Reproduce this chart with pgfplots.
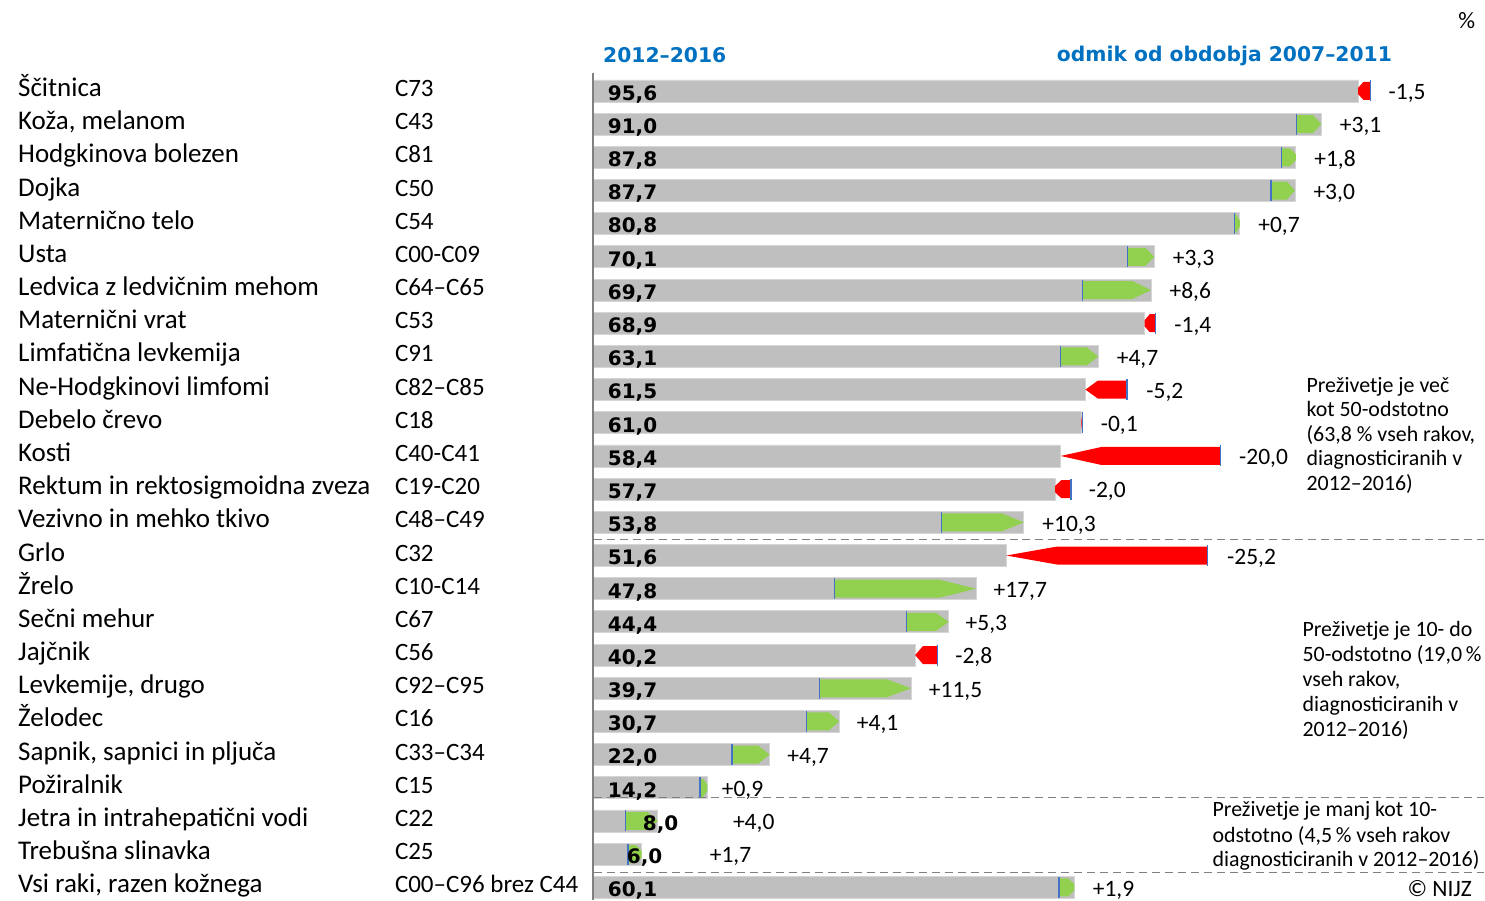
\documentclass[border=0pt]{standalone}
\usepackage{fontspec}
\setmainfont{Carlito}
\newfontfamily\dejavu{DejaVu Sans}
\usepackage{pgfplots}
\usepackage{pgfplotstable}
\pgfplotsset{compat=1.18}
\definecolor{barGray}{HTML}{BFBFBF}
\definecolor{barEdge}{HTML}{D6D6D6}
\definecolor{arrGreen}{HTML}{92D050}
\definecolor{arrRed}{HTML}{FF0000}
\definecolor{tickBlue}{HTML}{4472C4}
\definecolor{titleBlue}{HTML}{0070C0}
\definecolor{sepGray}{HTML}{808080}
\newcommand\fname{\fontsize{27bp}{30bp}\selectfont}
\newcommand\fcode{\fontsize{25bp}{28bp}\selectfont}
\newcommand\fchg{\fontsize{23.5bp}{26bp}\selectfont}
\newcommand\fval{\dejavu\bfseries\fontsize{20bp}{24bp}\selectfont}
\newcommand\ftitle{\dejavu\bfseries\fontsize{20.3bp}{24bp}\selectfont}
\newcommand\fann{\fontsize{21.9bp}{24.6bp}\selectfont}

\pgfplotstableread[col sep=semicolon]{
name;code;cur;chg;vlx;clx
Ščitnica;C73;95.6;-1.5;1.75;99.4
Koža, melanom;C43;91.0;3.1;1.75;93.3
Hodgkinova bolezen;C81;87.8;1.8;1.75;90.1
Dojka;C50;87.7;3.0;1.75;90.0
Maternično telo;C54;80.8;0.7;1.75;83.1
Usta;C00-C09;70.1;3.3;1.75;72.4
Ledvica z ledvičnim mehom;C64–C65;69.7;8.6;1.75;72.0
Maternični vrat;C53;68.9;-1.4;1.75;72.6
Limfatična levkemija;C91;63.1;4.7;1.75;65.4
Ne-Hodgkinovi limfomi;C82–C85;61.5;-5.2;1.75;69.1
Debelo črevo;C18;61.0;-0.1;1.75;63.4
Kosti;C40-C41;58.4;-20.0;1.75;80.7
Rektum in rektosigmoidna zveza;C19-C20;57.7;-2.0;1.75;61.9
Vezivno in mehko tkivo;C48–C49;53.8;10.3;1.75;56.1
Grlo;C32;51.6;-25.2;1.75;79.2
Žrelo;C10-C14;47.8;17.7;1.75;50.0
Sečni mehur;C67;44.4;5.3;1.75;46.5
Jajčnik;C56;40.2;-2.8;1.75;45.2
Levkemije, drugo;C92–C95;39.7;11.5;1.75;41.9
Želodec;C16;30.7;4.1;1.75;32.9
Sapnik, sapnici in pljuča;C33–C34;22.0;4.7;1.75;24.2
Požiralnik;C15;14.2;0.9;1.75;16.0
Jetra in intrahepatični vodi;C22;8.0;4.0;6.125;17.4
Trebušna slinavka;C25;6.0;1.7;4.125;14.5
Vsi raki, razen kožnega;C00–C96 brez C44;60.1;1.9;1.75;62.4
}\data

\begin{document}
\begin{tikzpicture}
\begin{axis}[
  scale only axis, width=1485bp, height=900bp,
  xmin=-74.25, xmax=111.375, ymin=0, ymax=900, y dir=reverse,
  axis line style={draw=none}, ticks=none, clip=false,
]
% gray bars (2012-2016)
\addplot[xbar, bar shift=0pt, bar width=22, fill=barGray, draw=barEdge, line width=0.8bp, forget plot]
  table[x=cur, y expr=91+33.2*\coordindex] {\data};

% change arrows
\pgfplotstablegetrowsof{\data}
\pgfmathtruncatemacro\nrows{\pgfplotsretval-1}
\pgfplotsforeachungrouped \i in {0,...,\nrows}{%
  \pgfplotstablegetelem{\i}{cur}\of\data \let\cur\pgfplotsretval
  \pgfplotstablegetelem{\i}{chg}\of\data \let\chg\pgfplotsretval
  \pgfmathsetmacro\yc{91+33.2*\i}%
  \pgfmathsetmacro\prev{\cur-\chg}%
  \pgfmathsetmacro\len{abs(\chg)}%
  \pgfmathsetmacro\tip{min(\len,0.24*\len+0.3)}%
  \pgfmathsetmacro\sgn{ifthenelse(\chg<0,-1,1)}%
  \pgfmathsetmacro\base{\cur-\sgn*\tip}%
  \pgfmathsetmacro\kk{ifthenelse(\len<2.5,0.35,0)}%
  \pgfmathsetmacro\ya{\yc-9}%
  \pgfmathsetmacro\yb{\yc+9}%
  \pgfmathsetmacro\yp{\yc-9*\kk}%
  \pgfmathsetmacro\yq{\yc+9*\kk}%
  \pgfmathsetmacro\ta{\yc-10.5}%
  \pgfmathsetmacro\tb{\yc+10.5}%
  \ifdim\chg pt<0pt \def\col{arrRed}\else\def\col{arrGreen}\fi
  \edef\tmp{\noexpand\addplot[fill=\col,draw=none,forget plot] coordinates {(\prev,\ya) (\base,\ya) (\cur,\yp) (\cur,\yq) (\base,\yb) (\prev,\yb)};}\tmp
  \edef\tmp{\noexpand\addplot[draw=tickBlue,line width=1.2bp,forget plot] coordinates {(\prev,\ta) (\prev,\tb)};}\tmp
}

% axis line and separators
\addplot[draw=sepGray, line width=2bp, forget plot] coordinates {(-0.125,73) (-0.125,900)};
\addplot[draw=sepGray, line width=1.5bp, dash pattern=on 8bp off 5bp, forget plot] coordinates {(0,540) (111.375,540)};
\addplot[draw=sepGray, line width=1.5bp, dash pattern=on 8bp off 5bp, forget plot] coordinates {(0,798) (111.375,798)};
\addplot[draw=sepGray, line width=1.5bp, dash pattern=on 8bp off 5bp, forget plot] coordinates {(0,873) (111.375,873)};

% value labels
\addplot[draw=none, forget plot, point meta=\thisrow{cur},
  nodes near coords={\pgfmathprintnumber[fixed,fixed zerofill,precision=1,use comma,assume math mode=true]{\pgfplotspointmeta}},
  every node near coord/.append style={anchor=base west, inner sep=0pt, yshift=-9.3bp, font=\fval, text=black}]
  table[x=vlx, y expr=91+33.2*\coordindex] {\data};

% change labels
\addplot[draw=none, forget plot, point meta=\thisrow{chg},
  nodes near coords={\pgfmathprintnumber[fixed,fixed zerofill,precision=1,use comma,showpos,assume math mode=true]{\pgfplotspointmeta}},
  every node near coord/.append style={anchor=base west, inner sep=0pt, yshift=-8.8bp, font=\fchg, text=black}]
  table[x=clx, y expr=91+33.2*\coordindex] {\data};

% names
\addplot[draw=none, forget plot, point meta=explicit symbolic, nodes near coords,
  every node near coord/.append style={anchor=base west, inner sep=0pt, yshift=-5.5bp, font=\fname, text=black}]
  table[x expr=-72, y expr=91+33.2*\coordindex, meta=name] {\data};

% codes
\addplot[draw=none, forget plot, point meta=explicit symbolic, nodes near coords,
  every node near coord/.append style={anchor=base west, inner sep=0pt, yshift=-5.5bp, font=\fcode, text=black}]
  table[x expr=-24.875, y expr=91+33.2*\coordindex, meta=code] {\data};

% titles and notes
\node[anchor=base west, inner sep=0pt, font=\ftitle, text=titleBlue] at (axis cs:1.16,62.3) {2012–2016};
\node[anchor=base west, inner sep=0pt, font=\ftitle, text=titleBlue] at (axis cs:57.91,61.7) {odmik od obdobja 2007–2011};
\node[anchor=base west, inner sep=0pt, font=\fchg] at (axis cs:108.1,28.3) {\%};
\node[anchor=base west, inner sep=0pt, font=\fchg] at (axis cs:101.75,896.7) {© NIJZ};

\node[anchor=base west, inner sep=0pt, font=\fann] at (axis cs:89.125,392.5) {Preživetje je več};
\node[anchor=base west, inner sep=0pt, font=\fann] at (axis cs:89.125,417) {kot 50-odstotno};
\node[anchor=base west, inner sep=0pt, font=\fann] at (axis cs:89.125,441.6) {(63,8 \% vseh rakov,};
\node[anchor=base west, inner sep=0pt, font=\fann] at (axis cs:89.125,466.2) {diagnosticiranih v};
\node[anchor=base west, inner sep=0pt, font=\fann] at (axis cs:89.125,490.8) {2012–2016)};

\node[anchor=base west, inner sep=0pt, font=\fann] at (axis cs:88.625,636.5) {Preživetje je 10- do};
\node[anchor=base west, inner sep=0pt, font=\fann] at (axis cs:88.625,662) {50-odstotno (19,0\,\%};
\node[anchor=base west, inner sep=0pt, font=\fann] at (axis cs:88.625,687) {vseh rakov,};
\node[anchor=base west, inner sep=0pt, font=\fann] at (axis cs:88.625,712) {diagnosticiranih v};
\node[anchor=base west, inner sep=0pt, font=\fann] at (axis cs:88.625,736.5) {2012–2016)};

\node[anchor=base west, inner sep=0pt, font=\fann] at (axis cs:77.375,817.3) {Preživetje je manj kot 10-};
\node[anchor=base west, inner sep=0pt, font=\fann] at (axis cs:77.375,843.3) {odstotno (4,5\,\% vseh rakov};
\node[anchor=base west, inner sep=0pt, font=\fann] at (axis cs:77.375,867.3) {diagnosticiranih v 2012–2016)};
\end{axis}
\end{tikzpicture}
\end{document}
